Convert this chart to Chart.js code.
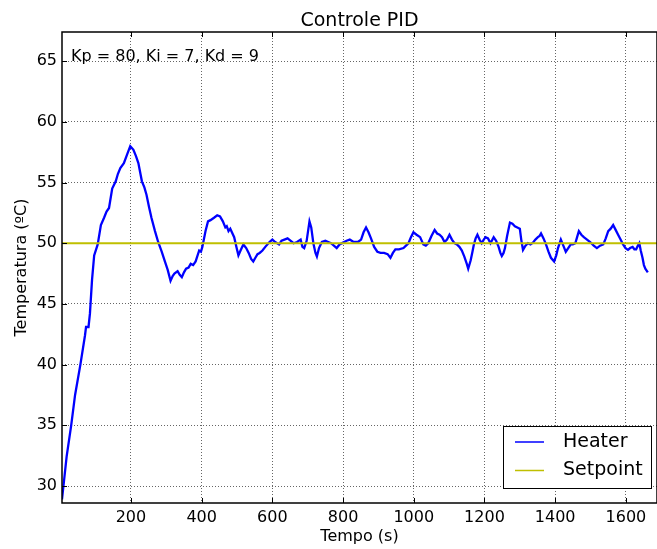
<!DOCTYPE html>
<html>
<head>
<meta charset="utf-8">
<script src="https://cdn.jsdelivr.net/npm/chart.js@4"></script>
<style>
  html, body { margin: 0; padding: 0; background: #fff; }
  #wrap { width: 657px; height: 549px; }
</style>
</head>
<body>
<div id="wrap"><canvas id="pid"></canvas></div>
<script>
// tempo (s) e temperatura do aquecedor
const timeS = [5, 18, 31, 42, 57, 70, 73, 80, 84, 90, 96, 106, 115, 124, 131, 138, 147, 157, 163, 170,
  180, 189, 198, 207, 214, 221, 231, 238, 244, 251, 258, 268, 277, 287, 296, 304, 312, 318, 323, 332,
  338, 344, 350, 356, 363, 369, 376, 383, 393, 398, 402, 411, 418, 425, 435, 444, 452, 460, 467, 471,
  476, 481, 492, 499, 504, 510, 518, 526, 533, 540, 546, 552, 558, 564, 572, 580, 592, 600, 608, 619,
  626, 634, 643, 652, 660, 670, 680, 685, 690, 697, 705, 710, 716, 722, 726, 732, 740, 750, 758, 766,
  774, 782, 790, 800, 810, 819, 830, 842, 851, 858, 865, 872, 879, 888, 897, 906, 916, 926, 934, 941,
  948, 958, 971, 978, 985, 992, 999, 1008, 1018, 1027, 1034, 1041, 1050, 1059, 1066, 1073, 1080, 1087, 1094, 1101,
  1108, 1115, 1122, 1129, 1136, 1143, 1150, 1154, 1161, 1166, 1170, 1175, 1180, 1186, 1192, 1198, 1203, 1210, 1217, 1226,
  1233, 1240, 1245, 1249, 1254, 1258, 1264, 1272, 1279, 1286, 1293, 1300, 1304, 1309, 1316, 1323, 1330, 1337, 1344, 1351,
  1356, 1360, 1367, 1374, 1381, 1388, 1397, 1403, 1408, 1416, 1423, 1430, 1437, 1444, 1450, 1457, 1462, 1467, 1474, 1481,
  1490, 1499, 1509, 1518, 1527, 1536, 1543, 1550, 1557, 1564, 1571, 1578, 1585, 1592, 1599, 1606, 1612, 1619, 1624, 1629,
  1634, 1638, 1642, 1647, 1651, 1655, 1662];
const heaterC = [28.9, 32.4, 35.0, 37.5, 40.0, 42.4, 43.1, 43.1, 44.2, 47.0, 49.0, 49.9, 51.5, 52.1, 52.6, 52.9, 54.5, 55.1, 55.7, 56.2,
  56.6, 57.3, 58.0, 57.7, 57.2, 56.6, 55.1, 54.6, 54.0, 53.0, 52.1, 51.0, 50.1, 49.3, 48.5, 47.8, 46.9, 47.3, 47.5, 47.7,
  47.4, 47.2, 47.6, 47.9, 48.0, 48.3, 48.2, 48.5, 49.4, 49.3, 49.7, 51.0, 51.8, 51.9, 52.1, 52.3, 52.2, 51.8, 51.3, 51.4,
  51.0, 51.2, 50.5, 49.6, 49.0, 49.4, 49.9, 49.6, 49.2, 48.7, 48.5, 48.8, 49.1, 49.2, 49.4, 49.7, 50.1, 50.3, 50.1, 49.9,
  50.2, 50.3, 50.4, 50.2, 50.0, 50.1, 50.3, 49.7, 49.6, 50.2, 51.8, 51.3, 50.0, 49.2, 48.9, 49.6, 50.1, 50.2, 50.1, 50.0,
  49.8, 49.6, 49.9, 50.05, 50.2, 50.3, 50.1, 50.1, 50.3, 50.9, 51.3, 50.9, 50.4, 49.7, 49.3, 49.2, 49.2, 49.1, 48.8, 49.2,
  49.5, 49.5, 49.6, 49.8, 50.0, 50.5, 50.9, 50.7, 50.5, 49.9, 49.8, 50.0, 50.6, 51.1, 50.8, 50.7, 50.5, 50.1, 50.3, 50.7,
  50.3, 50.0, 49.9, 49.7, 49.4, 48.9, 48.3, 47.9, 48.6, 49.3, 49.9, 50.4, 50.7, 50.3, 50.0, 50.3, 50.5, 50.4, 50.0, 50.5,
  50.2, 49.7, 49.2, 48.95, 49.2, 49.6, 50.6, 51.7, 51.6, 51.4, 51.3, 51.2, 50.3, 49.45, 49.8, 50.0, 49.9, 50.05, 50.3, 50.5,
  50.6, 50.8, 50.4, 49.9, 49.3, 48.8, 48.5, 49.0, 49.6, 50.3, 49.8, 49.3, 49.6, 49.9, 49.9, 50.0, 50.5, 51.0, 50.7, 50.5,
  50.3, 50.1, 49.8, 49.6, 49.8, 49.9, 50.4, 51.0, 51.2, 51.5, 51.1, 50.7, 50.3, 49.9, 49.6, 49.45, 49.6, 49.7, 49.5, 49.5,
  49.8, 50.0, 49.4, 48.8, 48.2, 47.9, 47.6];
const setpointTimes = [5, 1688];
const setpointC = [50, 50];
const xTicks = [200, 400, 600, 800, 1000, 1200, 1400, 1600];
const yTicks = [30, 35, 40, 45, 50, 55, 60, 65];
const gainsText = 'Kp = 80, Ki = 7, Kd = 9';

const FONT = 'DejaVu Sans';

// moldura, marcas internas, título, anotação e legenda no estilo matplotlib
const decor = {
  id: 'decor',
  afterDraw(chart) {
    const { ctx, chartArea: a, scales } = chart;
    ctx.save();
    ctx.strokeStyle = '#000';
    ctx.lineWidth = 1;
    scales.x.ticks.forEach(t => {
      const px = Math.round(scales.x.getPixelForValue(t.value)) + 0.5;
      ctx.beginPath();
      ctx.moveTo(px, a.bottom); ctx.lineTo(px, a.bottom - 5);
      ctx.moveTo(px, a.top); ctx.lineTo(px, a.top + 5);
      ctx.stroke();
    });
    scales.y.ticks.forEach(t => {
      const py = Math.round(scales.y.getPixelForValue(t.value)) + 0.5;
      ctx.beginPath();
      ctx.moveTo(a.left, py); ctx.lineTo(a.left + 5, py);
      ctx.stroke();
    });
    ctx.lineWidth = 1.5;
    ctx.strokeRect(a.left, a.top, a.right - a.left, a.bottom - a.top);

    ctx.fillStyle = '#000';
    ctx.textBaseline = 'alphabetic';
    ctx.textAlign = 'center';
    ctx.font = '19px "' + FONT + '"';
    ctx.fillText('Controle PID', (a.left + a.right) / 2, 26);

    ctx.textAlign = 'left';
    ctx.textBaseline = 'middle';
    ctx.font = '16px "' + FONT + '"';
    ctx.fillText(gainsText, a.left + 9, a.top + 25);

    // legenda
    const bx = 503, by = 426, bw = 148, bh = 62;
    ctx.fillStyle = '#fff';
    ctx.fillRect(bx, by, bw, bh);
    ctx.lineWidth = 1;
    ctx.strokeStyle = '#000';
    ctx.strokeRect(bx + 0.5, by + 0.5, bw, bh);
    ctx.font = '19px "' + FONT + '"';
    chart.data.datasets.forEach((ds, i) => {
      const y = by + 16 + i * 28.5;
      ctx.strokeStyle = ds.borderColor;
      ctx.lineWidth = 1.5;
      ctx.beginPath();
      ctx.moveTo(bx + 12, y); ctx.lineTo(bx + 41, y);
      ctx.stroke();
      ctx.fillStyle = '#000';
      ctx.fillText(ds.label, bx + 60, y);
    });
    ctx.restore();
  }
};

const gridStyle = { color: 'rgba(0,0,0,0.6)', lineWidth: 1, drawTicks: false };
const tickFont = { family: FONT, size: 16 };

new Chart(document.getElementById('pid'), {
  type: 'line',
  data: {
    datasets: [
      {
        label: 'Heater',
        data: timeS.map((t, i) => ({ x: t, y: heaterC[i] })),
        borderColor: '#0000ff',
        borderWidth: 2.3,
        pointRadius: 0,
        tension: 0,
        order: 1
      },
      {
        label: 'Setpoint',
        data: setpointTimes.map((t, i) => ({ x: t, y: setpointC[i] })),
        borderColor: '#bfbf00',
        borderWidth: 2,
        pointRadius: 0,
        order: 0
      }
    ]
  },
  options: {
    responsive: true,
    maintainAspectRatio: false,
    animation: false,
    layout: { padding: { top: 32, left: 0, right: -11, bottom: 0 } },
    plugins: { legend: { display: false }, title: { display: false }, tooltip: { enabled: false } },
    scales: {
      x: {
        type: 'linear',
        min: 5,
        max: 1688,
        afterFit: s => { s.height = 46; },
        afterBuildTicks: s => { s.ticks = xTicks.map(v => ({ value: v })); },
        grid: gridStyle,
        border: { display: false, dash: [1, 2] },
        ticks: { color: '#000', padding: 5, font: tickFont, callback: v => String(v) },
        title: { display: true, text: 'Tempo (s)', color: '#000', padding: { top: 3, bottom: 3 }, font: tickFont }
      },
      y: {
        min: 28.6,
        max: 67.4,
        afterFit: s => { s.width = 62; },
        afterBuildTicks: s => { s.ticks = yTicks.map(v => ({ value: v })); },
        grid: gridStyle,
        border: { display: false, dash: [1, 2] },
        ticks: { color: '#000', padding: 5, font: tickFont, callback: v => String(v) },
        title: { display: true, text: 'Temperatura (ºC)', color: '#000', padding: { top: 12, bottom: 3 }, font: tickFont }
      }
    }
  },
  plugins: [decor]
});
</script>
</body>
</html>
